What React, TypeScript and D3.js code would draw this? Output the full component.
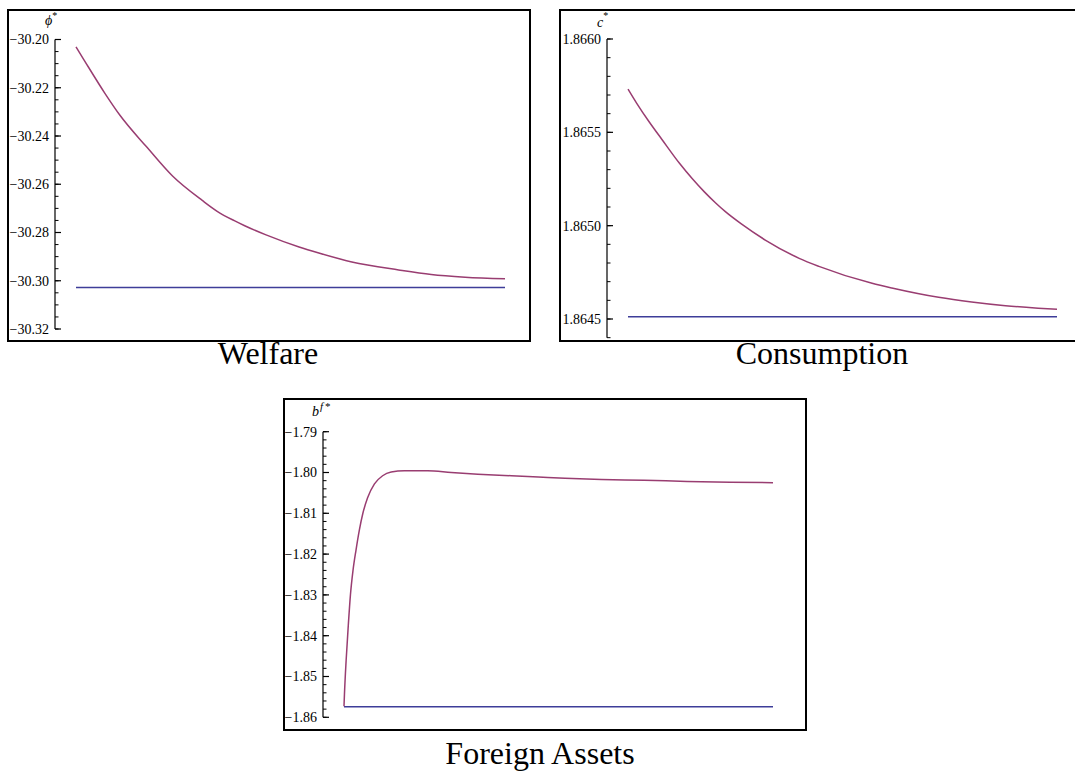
import * as d3 from "d3";
import { useEffect, useRef } from "react";

const PURPLE = "#993d71";
const BLUE = "#3e3d99";

// Welfare
const welfarePeriods = [0, 1.6, 6.7, 10.2, 16.5, 22.5, 29.5, 33, 36.9, 39.2, 44.3, 52, 56.6, 64.3, 75.2, 82.8, 90.7, 100];
const welfareValues = [
  -30.2031, -30.2077, -30.2222, -30.2313, -30.2446, -30.2566, -30.2668, -30.2713, -30.2751,
  -30.2771, -30.281, -30.286, -30.2885, -30.2922, -30.2955, -30.2974, -30.2985, -30.2992,
];
const welfareSteady = -30.3028;
const welfareTicks = [-30.2, -30.22, -30.24, -30.26, -30.28, -30.3, -30.32];

// Consumption
const consumptionPeriods = [0, 2, 5, 8, 12, 15, 17.8, 20.5, 22.7, 26.5, 32, 39.9, 44.5, 56.9, 61.5, 72.4, 80.1, 88, 95.6, 100];
const consumptionValues = [
  1.865732, 1.865657, 1.865554, 1.865459, 1.865334, 1.865251, 1.865181, 1.86512, 1.865075, 1.865008,
  1.864923, 1.864825, 1.864782, 1.864691, 1.864666, 1.864616, 1.864591, 1.864571, 1.864558, 1.864552,
];
const consumptionSteady = 1.864512;
const consumptionTicks = [1.866, 1.8655, 1.865, 1.8645];

// Foreign assets
const foreignPeriods = [0, 0.1, 0.5, 1.0, 1.5, 2.1, 2.8, 3.6, 4.4, 5.5, 7.1, 9.0, 11, 14.1, 19.5, 25, 31.2, 39, 45.3, 51.5, 60, 70, 80, 90, 100];
const foreignValues = [
  -1.8573, -1.8545, -1.846, -1.8375, -1.83, -1.824, -1.819, -1.814, -1.81, -1.8062, -1.8028, -1.8008,
  -1.7999, -1.7996, -1.7996, -1.8, -1.8004, -1.8008, -1.8011, -1.8014, -1.8017, -1.8019, -1.8022,
  -1.8024, -1.8025,
];
const foreignSteady = -1.8574;
const foreignTicks = [-1.79, -1.8, -1.81, -1.82, -1.83, -1.84, -1.85, -1.86];

const FRAME_W = 522;
const FRAME_H = 331;

interface PanelSpec {
  left: number;
  top: number;
  axisX: number;
  ticks: number[];
  topPx: number;
  bottomPx: number;
  axisEnd: number;
  minorStep: number;
  fmt: string;
  periods: number[];
  values: number[];
  steady: number;
  title: string;
  titleX: number;
  titleY: number;
  label: string;
}

const panels: PanelSpec[] = [
  {
    left: 8, top: 10, axisX: 47, ticks: welfareTicks, topPx: 29.5, bottomPx: 319,
    axisEnd: -30.32, minorStep: 0.005, fmt: ".2f",
    periods: welfarePeriods, values: welfareValues, steady: welfareSteady,
    title: "Welfare", titleX: 268, titleY: 364, label: "phi",
  },
  {
    left: 560, top: 10, axisX: 47, ticks: consumptionTicks, topPx: 29, bottomPx: 309,
    axisEnd: 1.8644, minorStep: 0.0001, fmt: ".4f",
    periods: consumptionPeriods, values: consumptionValues, steady: consumptionSteady,
    title: "Consumption", titleX: 822, titleY: 364, label: "c",
  },
  {
    left: 284, top: 399, axisX: 39, ticks: foreignTicks, topPx: 32.7, bottomPx: 318.3,
    axisEnd: -1.86, minorStep: 0.002, fmt: ".2f",
    periods: foreignPeriods, values: foreignValues, steady: foreignSteady,
    title: "Foreign Assets", titleX: 540, titleY: 764, label: "bf",
  },
];

function drawPanel(svg: d3.Selection<SVGSVGElement, unknown, null, undefined>, p: PanelSpec) {
  const g = svg.append("g").attr("transform", `translate(${p.left},${p.top})`);

  g.append("rect")
    .attr("x", 0)
    .attr("y", 0)
    .attr("width", FRAME_W)
    .attr("height", FRAME_H)
    .attr("fill", "none")
    .attr("stroke", "#000")
    .attr("stroke-width", 2);

  const topVal = p.ticks[0];
  const botVal = p.ticks[p.ticks.length - 1];
  const y = d3.scaleLinear().domain([botVal, topVal]).range([p.bottomPx, p.topPx]);
  const x = d3.scaleLinear().domain([0, 100]).range([p.axisX + 21, p.axisX + 450]);

  // axis line
  g.append("line")
    .attr("x1", p.axisX)
    .attr("x2", p.axisX)
    .attr("y1", y(topVal))
    .attr("y2", y(p.axisEnd))
    .attr("stroke", "#000")
    .attr("stroke-width", 1.2);

  const nMinor = Math.round((topVal - p.axisEnd) / p.minorStep);
  const minors = d3.range(0, nMinor + 1).map((i) => topVal - i * p.minorStep);
  g.selectAll(".minor")
    .data(minors)
    .enter()
    .append("line")
    .attr("x1", p.axisX)
    .attr("x2", p.axisX + 3.5)
    .attr("y1", (d) => y(d))
    .attr("y2", (d) => y(d))
    .attr("stroke", "#000")
    .attr("stroke-width", 1);

  g.selectAll(".major")
    .data(p.ticks)
    .enter()
    .append("line")
    .attr("x1", p.axisX)
    .attr("x2", p.axisX + 6)
    .attr("y1", (d) => y(d))
    .attr("y2", (d) => y(d))
    .attr("stroke", "#000")
    .attr("stroke-width", 1.2);

  const fmt = d3.format(p.fmt);
  g.selectAll(".tick-label")
    .data(p.ticks)
    .enter()
    .append("text")
    .attr("x", p.axisX - 6)
    .attr("y", (d) => y(d))
    .attr("dy", "0.35em")
    .attr("text-anchor", "end")
    .attr("font-family", "Liberation Serif")
    .attr("font-size", 14)
    .attr("fill", "#000")
    .text((d) => fmt(d));

  // variable label
  const lab = g
    .append("text")
    .attr("font-family", "Liberation Serif")
    .attr("font-style", "italic")
    .attr("font-size", 14)
    .attr("fill", "#000");
  if (p.label === "phi") {
    lab.attr("x", p.axisX - 10).attr("y", 15).text("ϕ");
    lab.append("tspan").attr("dy", -6).attr("font-size", 10).attr("font-style", "normal").text("*");
  } else if (p.label === "c") {
    lab.attr("x", p.axisX - 10).attr("y", 17).text("c");
    lab.append("tspan").attr("dy", -8).attr("font-size", 10).attr("font-style", "normal").text("*");
  } else {
    lab.attr("x", p.axisX - 11).attr("y", 17).text("b");
    lab.append("tspan").attr("dy", -6).attr("dx", 1).attr("font-size", 11).text("f");
    lab.append("tspan").attr("dx", 2).attr("font-size", 11).attr("font-style", "normal").text("*");
  }

  const line = d3
    .line<number>()
    .x((_d, i) => x(p.periods[i]))
    .y((d) => y(d))
    .curve(d3.curveMonotoneX);

  g.append("line")
    .attr("x1", x(0))
    .attr("x2", x(100))
    .attr("y1", y(p.steady))
    .attr("y2", y(p.steady))
    .attr("stroke", BLUE)
    .attr("stroke-width", 1.5);

  g.append("path")
    .attr("d", line(p.values) ?? "")
    .attr("fill", "none")
    .attr("stroke", PURPLE)
    .attr("stroke-width", 1.5);

  svg
    .append("text")
    .attr("x", p.titleX)
    .attr("y", p.titleY)
    .attr("text-anchor", "middle")
    .attr("font-family", "Liberation Serif")
    .attr("font-size", 32)
    .attr("fill", "#000")
    .text(p.title);
}

export default function App() {
  const svgRef = useRef<SVGSVGElement>(null);

  useEffect(() => {
    document.body.style.margin = "0";
    if (!svgRef.current) return;
    const svg = d3.select(svgRef.current);
    svg.selectAll("*").remove();
    panels.forEach((p) => drawPanel(svg, p));
  }, []);

  return <svg ref={svgRef} width={1075} height={778} style={{ display: "block", background: "#fff" }} />;
}
